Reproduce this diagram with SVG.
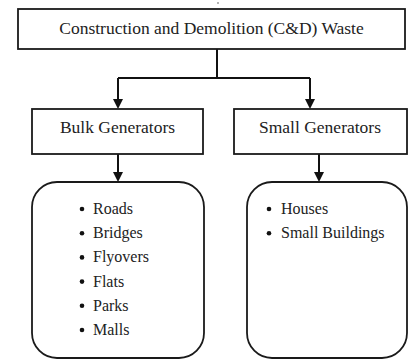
<svg xmlns="http://www.w3.org/2000/svg" width="409" height="360" viewBox="0 0 409 360">
<defs>
<style>
.box{fill:#fff;stroke:#1a1a1a;stroke-width:1.8}
.hd{font-family:"Liberation Serif","Times New Roman",serif;font-size:17.5px;fill:#222;text-anchor:middle}
.it{font-family:"Liberation Serif","Times New Roman",serif;font-size:16px;fill:#222}
.bl{fill:#111}
.ln{fill:none;stroke:#111;stroke-width:2}
</style>
<marker id="ah" markerWidth="10" markerHeight="10" refX="5" refY="9" orient="auto-start-reverse" markerUnits="userSpaceOnUse" viewBox="0 0 10 10">
<path d="M0,0 L10,0 L5,10 Z" fill="#111" transform="rotate(-90 5 5)"/>
</marker>
</defs>
<rect width="409" height="360" fill="#fff"/>
<circle cx="218" cy="3" r="0.8" fill="#555"/>
<g id="connectors">
<path class="ln" d="M217,49 V78 M118,78 H310"/>
<path class="ln" d="M118,78 V100"/>
<path d="M113,99 L123,99 L118,109 Z" fill="#111"/>
<path class="ln" d="M310,78 V100"/>
<path d="M305,99 L315,99 L310,109 Z" fill="#111"/>
<path class="ln" d="M118,154 V173"/>
<path d="M113,172 L123,172 L118,182 Z" fill="#111"/>
<path class="ln" d="M319,154 V173"/>
<path d="M314,172 L324,172 L319,182 Z" fill="#111"/>
</g>
<g id="cd-waste">
<rect class="box" x="18" y="9" width="387" height="40"/>
<text class="hd" x="211.5" y="34">Construction and Demolition (C&amp;D) Waste</text>
</g>
<g id="bulk-generators">
<rect class="box" x="32" y="109" width="171" height="45"/>
<text class="hd" x="117.5" y="133">Bulk Generators</text>
</g>
<g id="small-generators">
<rect class="box" x="234" y="109" width="173" height="45"/>
<text class="hd" x="320" y="133">Small Generators</text>
</g>
<g id="bulk-list">
<rect class="box" x="32" y="182" width="172" height="176" rx="25" ry="25"/>
<g class="bl">
<circle cx="82" cy="209" r="2.3"/>
<circle cx="82" cy="233.2" r="2.3"/>
<circle cx="82" cy="257.4" r="2.3"/>
<circle cx="82" cy="281.6" r="2.3"/>
<circle cx="82" cy="305.8" r="2.3"/>
<circle cx="82" cy="330" r="2.3"/>
</g>
<text class="it" x="93" y="214">Roads</text>
<text class="it" x="93" y="238.2">Bridges</text>
<text class="it" x="93" y="262.4">Flyovers</text>
<text class="it" x="93" y="286.6">Flats</text>
<text class="it" x="93" y="310.8">Parks</text>
<text class="it" x="93" y="335">Malls</text>
</g>
<g id="small-list">
<rect class="box" x="247" y="182" width="160" height="176" rx="25" ry="25"/>
<g class="bl">
<circle cx="269" cy="209" r="2.3"/>
<circle cx="269" cy="233.2" r="2.3"/>
</g>
<text class="it" x="281" y="214">Houses</text>
<text class="it" x="281" y="238.2">Small Buildings</text>
</g>
</svg>
